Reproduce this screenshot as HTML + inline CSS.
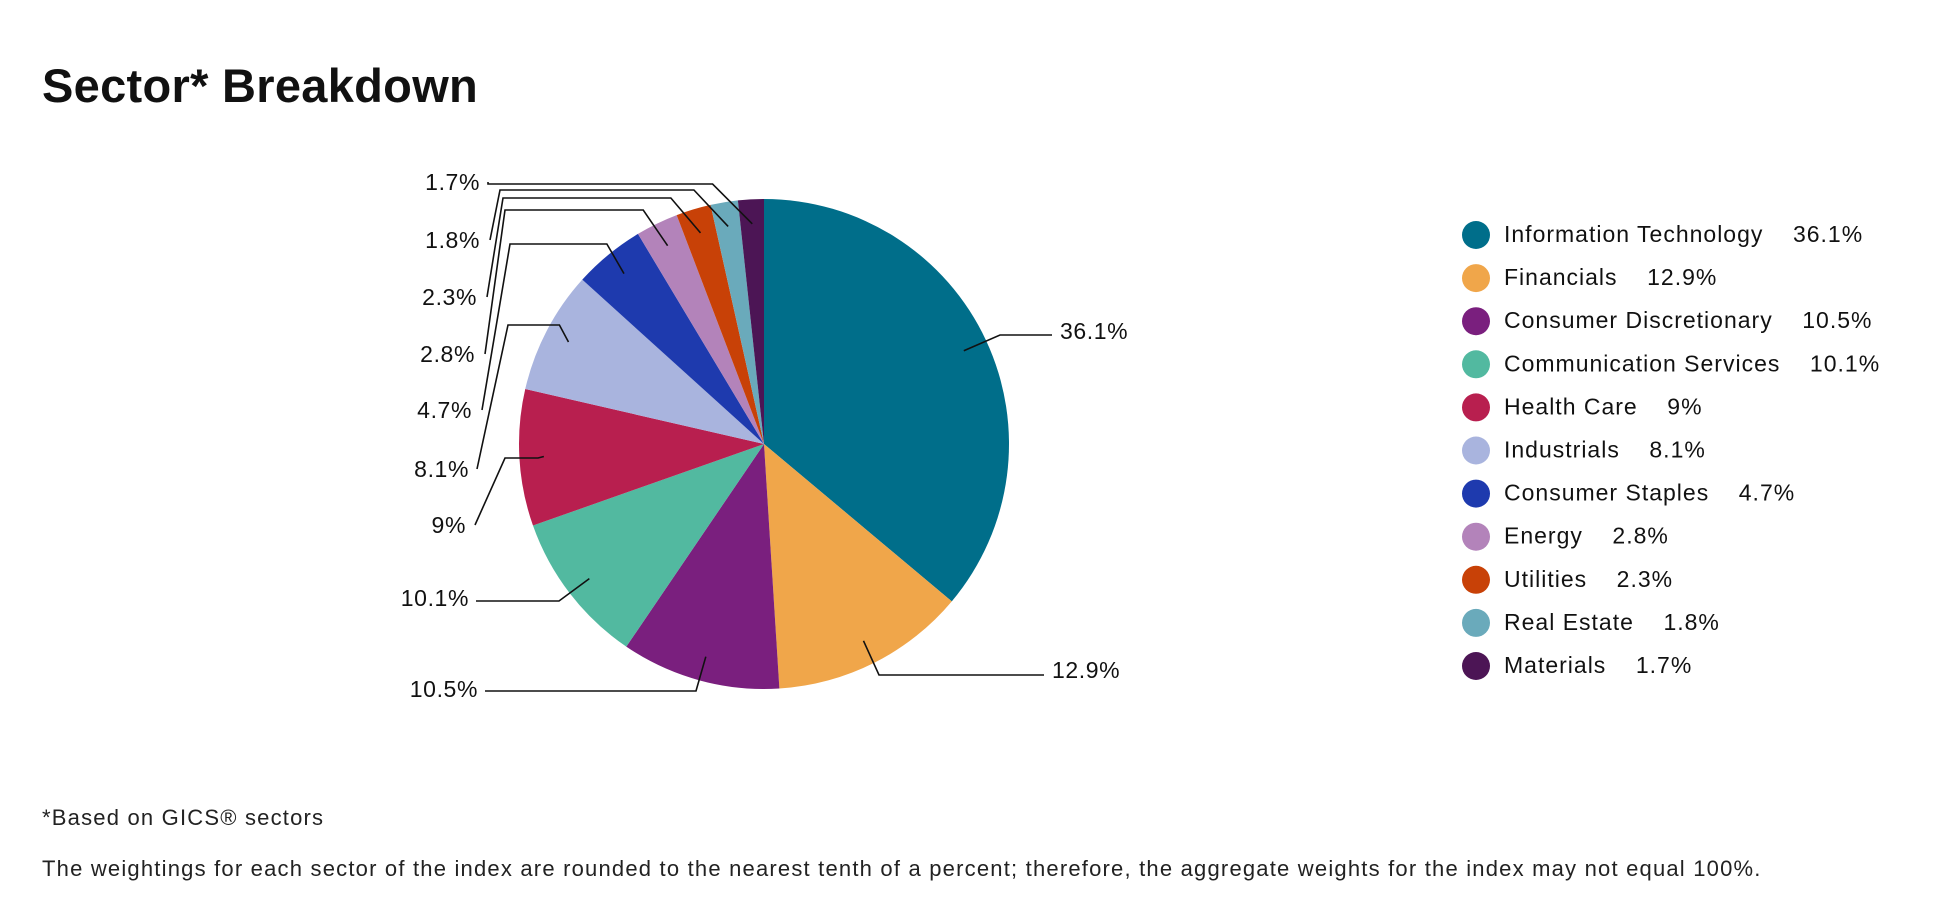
<!DOCTYPE html>
<html><head><meta charset="utf-8"><style>
body{margin:0;background:#fff;width:1960px;height:924px;overflow:hidden;font-family:"Liberation Sans",sans-serif;color:#111}
#title{position:absolute;left:42px;top:58px;font-size:47px;font-weight:bold;margin:0;letter-spacing:0.3px}
.note{position:absolute;left:42px;font-size:22px;color:#222;letter-spacing:1.2px}
</style></head><body>
<h1 id="title">Sector* Breakdown</h1>
<svg id="chart" width="1960" height="924" style="position:absolute;left:0;top:0"></svg>
<div class="note" style="top:805px">*Based on GICS® sectors</div>
<div class="note" style="top:856px">The weightings for each sector of the index are rounded to the nearest tenth of a percent; therefore, the aggregate weights for the index may not equal 100%.</div>
<script>
const categories=["Information Technology","Financials","Consumer Discretionary","Communication Services","Health Care","Industrials","Consumer Staples","Energy","Utilities","Real Estate","Materials"];
const values=[36.1,12.9,10.5,10.1,9,8.1,4.7,2.8,2.3,1.8,1.7];
const valueLabels=["36.1%","12.9%","10.5%","10.1%","9%","8.1%","4.7%","2.8%","2.3%","1.8%","1.7%"];
const colors=["#006E8A","#F0A64A","#7A1F7E","#52B9A0","#B81F4F","#A9B4DE","#1E3AAE","#B383BA","#C84107","#6AAABB","#4C1555"];
// label layout: [kneeX, kneeY, endX, textX, textY, anchor]
const layout=[[1000,335,1052,1060,331,"start"],[879,675,1044,1052,670,"start"],[696,691,485,478,689,"end"],[559,601,476,469,598,"end"],[505,458,475,466,525,"end"],[508,325,477,469,469,"end"],[510,244,482,472,410,"end"],[505,210,485,475,354,"end"],[503,198,487,477,297,"end"],[500,190,490,480,240,"end"],[488,184,488,480,182,"end"]];
const NS="http://www.w3.org/2000/svg";
const svg=document.getElementById('chart');
const cx=764,cy=444,r=245;
const total=values.reduce((a,b)=>a+b,0);
function pt(a,rad){return [cx+rad*Math.sin(a),cy-rad*Math.cos(a)];}
let acc=0;
values.forEach((v,i)=>{
  const a0=acc/total*2*Math.PI; acc+=v; const a1=acc/total*2*Math.PI;
  const p0=pt(a0,r),p1=pt(a1,r);
  const path=document.createElementNS(NS,'path');
  path.setAttribute('d',`M${cx},${cy}L${p0[0]},${p0[1]}A${r},${r} 0 ${a1-a0>Math.PI?1:0} 1 ${p1[0]},${p1[1]}Z`);
  path.setAttribute('fill',colors[i]);
  
  
  svg.appendChild(path);
  const am=(a0+a1)/2, ip=pt(am,r*0.9), L=layout[i];
  let d;
  if(i>=4) d=`M${ip[0]},${ip[1]}L${L[0]+(ip[0]-L[0])*0.85},${L[1]}L${L[0]},${L[1]}L${L[2]},${L[4]}`;
  else d=`M${ip[0]},${ip[1]}L${L[0]},${L[1]}L${L[2]},${L[1]}`;
  const ln=document.createElementNS(NS,'path');
  ln.setAttribute('d',d);ln.setAttribute('fill','none');ln.setAttribute('stroke','#111');ln.setAttribute('stroke-width','1.6');
  
  
  svg.appendChild(ln);
  const t=document.createElementNS(NS,'text');
  t.setAttribute('x',L[3]);t.setAttribute('y',L[4]+8);t.setAttribute('text-anchor',L[5]);
  t.setAttribute('font-size','23');t.setAttribute('letter-spacing','0.6');t.setAttribute('font-family','Liberation Sans, sans-serif');t.setAttribute('fill','#111');
  t.textContent=valueLabels[i];
  
  
  svg.appendChild(t);
  const ly=234+i*43.1;
  const c=document.createElementNS(NS,'circle');
  c.setAttribute('cx',1476);c.setAttribute('cy',ly+1);c.setAttribute('r',14);c.setAttribute('fill',colors[i]);
  
  
  svg.appendChild(c);
  const lt=document.createElementNS(NS,'text');
  lt.setAttribute('x',1504);lt.setAttribute('y',ly+8);lt.setAttribute('font-size','23');lt.setAttribute('letter-spacing','1');
  lt.setAttribute('font-family','Liberation Sans, sans-serif');lt.setAttribute('fill','#111');
  lt.setAttribute('style','white-space:pre');
  lt.textContent=categories[i]+"    "+valueLabels[i];
  
  
  svg.appendChild(lt);
});
</script>
</body></html>
